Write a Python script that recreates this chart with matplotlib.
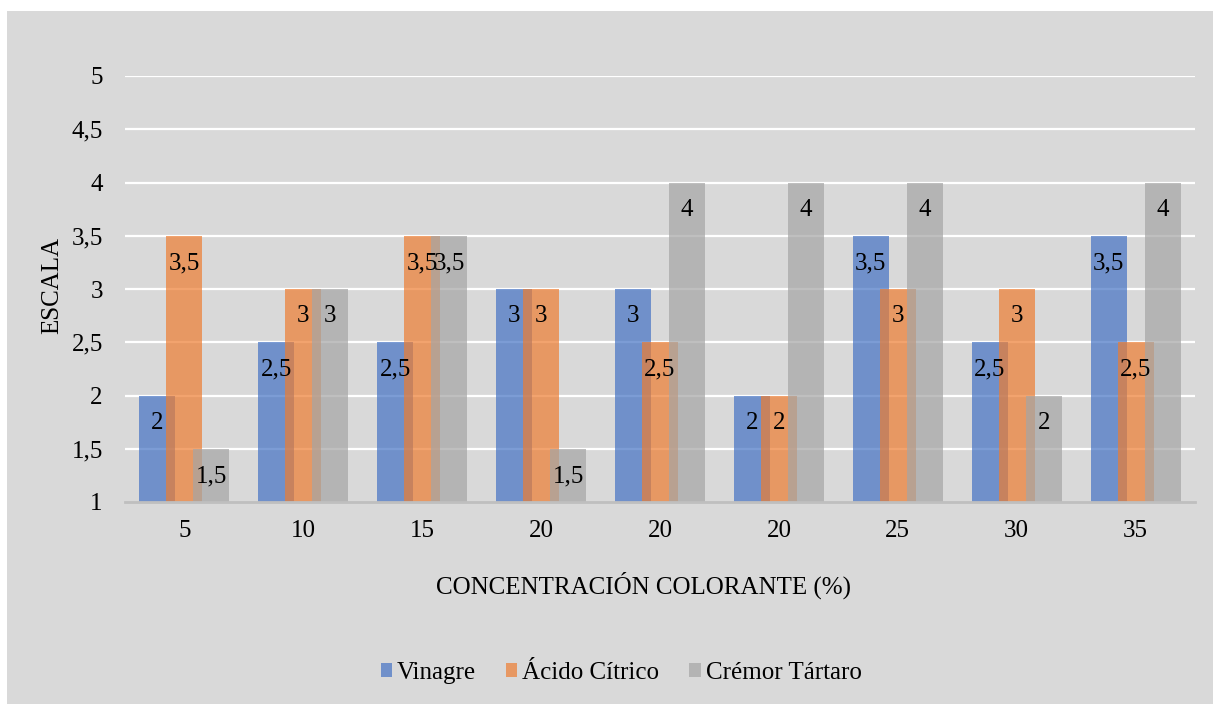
import matplotlib
matplotlib.use("Agg")
import matplotlib.pyplot as plt
import numpy as np
from matplotlib.patches import Rectangle, Patch

categories = ["5", "10", "15", "20", "20", "20", "25", "30", "35"]
vinagre = [2, 2.5, 2.5, 3, 3, 2, 3.5, 2.5, 3.5]
acido_citrico = [3.5, 3, 3.5, 3, 2.5, 2, 3, 3, 2.5]
cremor_tartaro = [1.5, 3, 3.5, 1.5, 4, 4, 4, 2, 4]
series_names = ["Vinagre", "Ácido Cítrico", "Crémor Tártaro"]
yticks = [1, 1.5, 2, 2.5, 3, 3.5, 4, 4.5, 5]

colors = ["#4472c4", "#ed7d31", "#a5a5a5"]
alpha = 0.7
bg = "#d9d9d9"
serif = ["Liberation Serif", "DejaVu Serif"]
fs = 18

plt.rcParams["font.family"] = serif

W, H = 1213, 704
fig = plt.figure(figsize=(W / 100, H / 100), dpi=100)
fig.patch.set_facecolor("white")
fig.add_artist(Rectangle((7 / W, 0), 1 - 7 / W, 1 - 11 / H,
                         transform=fig.transFigure, facecolor=bg,
                         edgecolor="none", zorder=-10))

ax = fig.add_axes([125 / W, 1 - 502 / H, (1195 - 125) / W, (502 - 76) / H])
ax.patch.set_alpha(0)

x = np.arange(len(categories))
width = 0.303
step = 0.227
base = 1
for i, (vals, c) in enumerate(zip([vinagre, acido_citrico, cremor_tartaro], colors)):
    offs = (i - 1) * step
    heights = [v - base for v in vals]
    ax.bar(x + offs, heights, width=width, bottom=base, color=c,
           alpha=alpha, linewidth=0, zorder=3)
    for xi, v in zip(x + offs, vals):
        ax.annotate(f"{v:g}".replace(".", ","), xy=(xi, v), xytext=(0, -19.8),
                    textcoords="offset points", ha="center", va="center",
                    fontsize=fs, family=serif, color="black", zorder=5)

ax.set_xlim(-0.5, len(categories) - 0.5)
ax.set_ylim(1, 5)
ax.set_yticks(yticks)
ax.set_yticklabels([f"{t:g}".replace(".", ",") for t in yticks])
ax.set_xticks(x)
ax.set_xticklabels(categories)
ax.tick_params(axis="both", length=0, labelsize=fs, colors="#000000")
ax.tick_params(axis="y", pad=16)
ax.tick_params(axis="x", pad=13)
for t in yticks[1:]:
    ax.axhline(t, color="white", linewidth=1.6, zorder=1)
for s in ["top", "right", "left"]:
    ax.spines[s].set_visible(False)
ax.spines["bottom"].set_color("#bfbfbf")
ax.spines["bottom"].set_linewidth(2)
ax.spines["bottom"].set_zorder(4)

fig.text(52 / W, 1 - 286 / H, "ESCALA", rotation=90, ha="center",
         va="center", fontsize=fs)
fig.text(643 / W, 1 - 585 / H, "CONCENTRACIÓN COLORANTE (%)", ha="center",
         va="center", fontsize=fs)

handles = [Patch(facecolor=c, alpha=alpha, edgecolor="none") for c in colors]
fig.legend(handles, series_names, loc="center", bbox_to_anchor=(621 / W, 1 - 673 / H),
           ncol=3, frameon=False, fontsize=fs, handlelength=0.45, handleheight=0.45,
           handletextpad=0.2, columnspacing=1.2)

fig.savefig("out.png", dpi=100, facecolor="white")
